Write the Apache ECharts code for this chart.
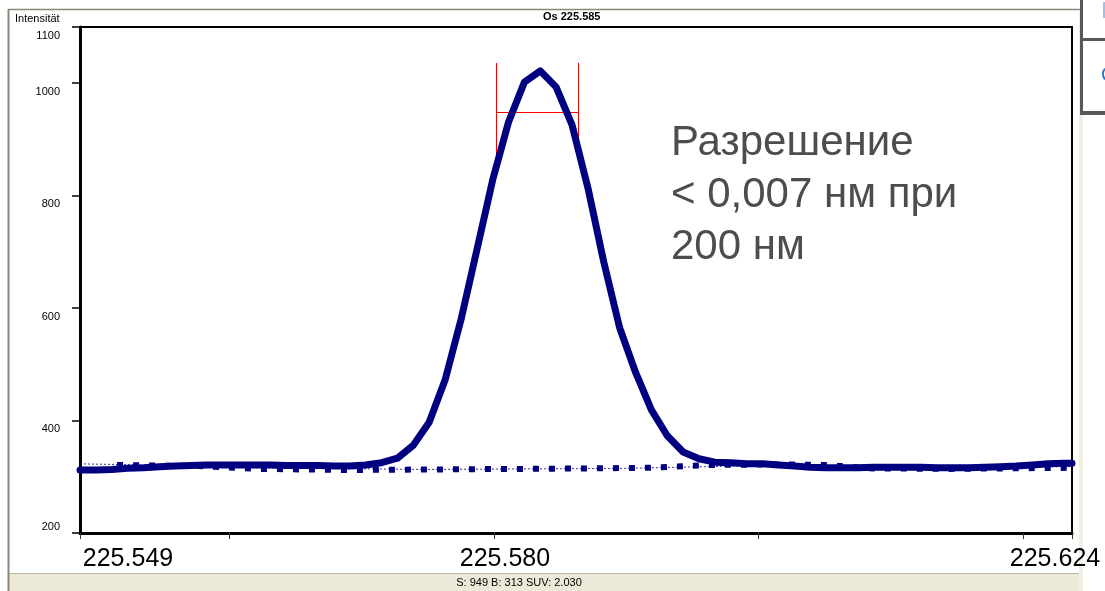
<!DOCTYPE html>
<html>
<head>
<meta charset="utf-8">
<script src="https://cdn.jsdelivr.net/npm/echarts@6/dist/echarts.min.js"></script>
<style>
html,body{margin:0;padding:0;background:#fff;}
#c{width:1105px;height:591px;}
</style>
</head>
<body>
<div id="c"></div>
<script>
// ---- data ----
var wavelengths = [225.5487,225.5499,225.5511,225.5523,225.5535,225.5547,225.5559,225.5571,225.5583,225.5595,
  225.5607,225.5619,225.5631,225.5643,225.5655,225.5667,225.5679,225.5691,225.5703,225.5715,
  225.5727,225.5739,225.5751,225.5763,225.5775,225.5787,225.5799,225.5811,225.5823,225.5835,
  225.5847,225.5859,225.5871,225.5883,225.5895,225.5907,225.5919,225.5931,225.5943,225.5955,
  225.5967,225.5979,225.5991,225.6003,225.6015,225.6027,225.6039,225.6051,225.6063,225.6075,
  225.6087,225.6099,225.6111,225.6123,225.6135,225.6147,225.6159,225.6171,225.6183,225.6195,
  225.6207,225.6219,225.6231,225.6237];
var intensity = [312,312,313,315,316,318,319,320,321,321,
  321,321,321,320,320,320,319,319,321,325,
  333,356,397,472,579,703,828,931,1002,1022,
  993,926,814,682,565,486,419,373,344,332,
  326,325,323,323,321,319,317,316,316,316,
  317,317,317,317,316,316,316,317,318,319,
  321,323,324,324];
var backgroundX = [225.5515,225.5577,225.5623,225.5691,225.5751,225.5819,225.5879,225.5917,225.5965,225.6015,225.6053,225.6083,225.6144,225.6237];
var backgroundY = [321,319,314,312,313,314,315,316,321,322,321,315,314,316];
var baselineX = [225.5487,225.5560,225.5620,225.5750,225.5900,225.6000,225.6100,225.6237];
var baselineY = [323,320,316,313,315,320,316,318];
var markerX = [225.5802,225.5864];
var markerTop = 1036, markerBottom = 860, markerLevel = 949;
var xTickValues = [225.5487,225.56,225.58,225.60,225.62,225.6237];
var xLabelValues = [225.5487,225.58,225.6237];
var xTickLabels = ['225.549','225.580','225.624'];
var yTickValues = [200,400,600,800,1000,1100];
var titleY = 'Intensität';
var titleTop = 'Os 225.585';
var statusText = 'S: 949 B: 313 SUV: 2.030';
var noteText = 'Разрешение\n< 0,007 нм при\n200 нм';

function pairs(xs, ys){ return xs.map(function(x,i){ return [x, ys[i]]; }); }

var FONT = 'Liberation Sans, Arial, sans-serif';
var chart = echarts.init(document.getElementById('c'), null, {renderer:'canvas'});
var xRich = ['l','m','r'];
chart.setOption({
  animation:false,
  backgroundColor:'#fff',
  title:[
    {text:titleY, left:15, top:13, padding:0, textStyle:{fontSize:11, fontWeight:'normal', color:'#000', fontFamily:FONT}},
    {text:titleTop, left:543, top:11, padding:0, textStyle:{fontSize:11, fontWeight:'bold', color:'#000', fontFamily:FONT}}
  ],
  grid:{left:80, right:33, top:27, bottom:58, show:true, borderColor:'#000', borderWidth:2, backgroundColor:'#fff'},
  xAxis:{
    type:'value', min:225.5487, max:225.6237,
    axisLine:{show:true, lineStyle:{color:'#000', width:3}},
    axisTick:{show:true, customValues:xTickValues, length:6, lineStyle:{color:'#333', width:1}},
    splitLine:{show:false},
    axisLabel:{
      customValues:xLabelValues, margin:14, color:'#000', fontSize:25, fontFamily:FONT,
      formatter:function(v){
        var k = -1;
        for (var i=0;i<xLabelValues.length;i++){ if (Math.abs(xLabelValues[i]-v)<1e-6) k=i; }
        if (k<0) return '';
        return '{'+xRich[k]+'|'+xTickLabels[k]+'}';
      },
      rich:{
        l:{fontSize:25, fontFamily:FONT, color:'#000', padding:[0,0,0,96]},
        m:{fontSize:25, fontFamily:FONT, color:'#000', padding:[0,0,0,22]},
        r:{fontSize:25, fontFamily:FONT, color:'#000', padding:[0,34,0,0]}
      }
    }
  },
  yAxis:{
    type:'value', min:200, max:1100,
    axisLine:{show:true, lineStyle:{color:'#000', width:3}},
    axisTick:{show:true, customValues:yTickValues, length:8, lineStyle:{color:'#000', width:1.5}},
    splitLine:{show:false},
    axisLabel:{
      customValues:yTickValues, margin:20, color:'#000', fontSize:11, fontFamily:FONT,
      formatter:function(v){ return v===200 ? '{u|'+v+'}' : '{d|'+v+'}'; },
      rich:{
        d:{fontSize:11, fontFamily:FONT, color:'#000', padding:[17,0,0,0]},
        u:{fontSize:11, fontFamily:FONT, color:'#000', padding:[0,0,12,0]}
      }
    }
  },
  series:[
    {type:'line', data:pairs(baselineX, baselineY), symbol:'none', silent:true,
      lineStyle:{color:'#000080', width:1, type:[2,2], opacity:0.8}},
    {type:'line', data:pairs(backgroundX, backgroundY), symbol:'none', silent:true,
      lineStyle:{color:'#000080', width:6, type:[6,10], cap:'butt'}},
    {type:'line', data:pairs(wavelengths, intensity), symbol:'none', silent:true,
      lineStyle:{color:'#000080', width:7, join:'round', cap:'round'}},
    {type:'lines', coordinateSystem:'cartesian2d', silent:true,
      lineStyle:{color:'#ff0000', width:1, opacity:1, curveness:0},
      data:[
        {coords:[[markerX[0],markerTop],[markerX[0],markerBottom]]},
        {coords:[[markerX[1],markerTop],[markerX[1],markerBottom]]},
        {coords:[[markerX[0],markerLevel],[markerX[1],markerLevel]]}
      ]}
  ],
  graphic:[
    {type:'rect', silent:true, z:-1, shape:{x:9, y:573, width:1071, height:18}, style:{fill:'#ECE9D8'}},
    {type:'line', silent:true, shape:{x1:9, y1:573.5, x2:1080, y2:573.5}, style:{stroke:'#b8b4a4', lineWidth:1}},
    {type:'line', silent:true, shape:{x1:8.5, y1:9, x2:8.5, y2:591}, style:{stroke:'#8a877a', lineWidth:2}},
    {type:'line', silent:true, shape:{x1:8, y1:9.5, x2:1081, y2:9.5}, style:{stroke:'#8a877a', lineWidth:1.5}},
    {type:'rect', silent:true, shape:{x:1079, y:10, width:4, height:581}, style:{fill:'#F1EFE2'}},
    {type:'rect', silent:true, shape:{x:1080, y:0, width:3, height:115}, style:{fill:'#585858'}},
    {type:'rect', silent:true, shape:{x:1083, y:38, width:22, height:3}, style:{fill:'#585858'}},
    {type:'rect', silent:true, shape:{x:1080, y:111, width:25, height:4}, style:{fill:'#585858'}},
    {type:'rect', silent:true, shape:{x:1103, y:2, width:2, height:16}, style:{fill:'#9cc0ea'}},
    {type:'text', silent:true, style:{x:1101, y:75, text:'C', font:'20px '+FONT, fill:'#1a7ad4', textAlign:'left', textVerticalAlign:'middle'}},
    {type:'text', silent:true, style:{x:519, y:583, text:statusText, font:'11px '+FONT, fill:'#000', textAlign:'center', textVerticalAlign:'middle'}},
    {type:'text', silent:true, z:10, style:{x:671, y:117, text:noteText, font:'42px '+FONT, lineHeight:52, fill:'#4d4d4d', textAlign:'left', textVerticalAlign:'top'}}
  ]
});
</script>
</body>
</html>
